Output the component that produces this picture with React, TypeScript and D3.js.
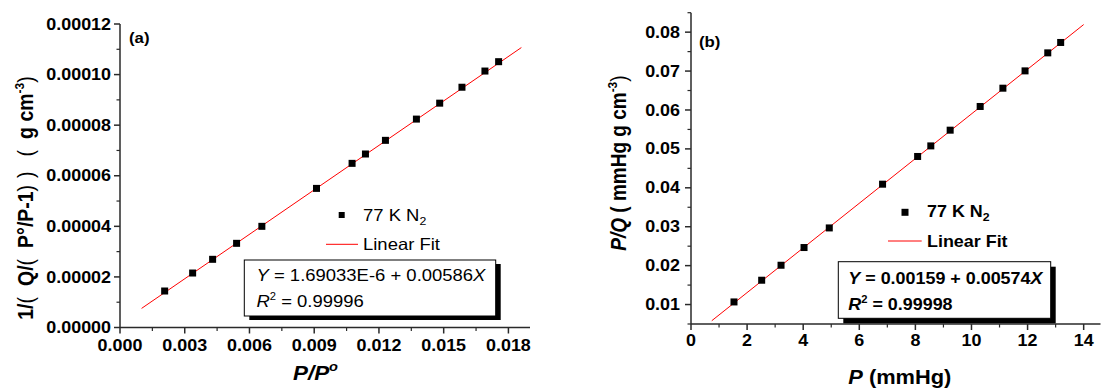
import React from "react";
import * as d3 from "d3";

// ---------- data ----------
const ppoA = [0.00207, 0.003366, 0.004292, 0.005403, 0.006574, 0.009106, 0.010755, 0.011375, 0.012301, 0.013736, 0.014815, 0.015847, 0.016912, 0.017546];
const invQA = [1.443e-5, 2.154e-5, 2.696e-5, 3.328e-5, 4.0e-5, 5.5e-5, 6.49e-5, 6.86e-5, 7.4e-5, 8.24e-5, 8.87e-5, 9.5e-5, 1.014e-4, 1.051e-4];
const fitA = { intercept: 1.69033e-6, slope: 0.00586, from: 0.001, to: 0.0186 };

const pB = [1.533, 2.52, 3.21, 4.03, 4.93, 6.83, 8.08, 8.55, 9.24, 10.31, 11.12, 11.91, 12.72, 13.18];
const pqB = [0.01067, 0.01625, 0.0201, 0.02465, 0.02969, 0.04093, 0.04805, 0.05077, 0.05481, 0.0609, 0.0656, 0.07005, 0.07468, 0.07735];
const fitB = { intercept: 0.00159, slope: 0.00574, from: 0.74, to: 14.0 };

const xTicksA = [0, 0.003, 0.006, 0.009, 0.012, 0.015, 0.018];
const xMinorA = [0.0015, 0.0045, 0.0075, 0.0105, 0.0135, 0.0165];
const yTicksA = [0, 0.00002, 0.00004, 0.00006, 0.00008, 0.0001, 0.00012];
const yMinorA = [0.00001, 0.00003, 0.00005, 0.00007, 0.00009, 0.00011];

const xTicksB = [0, 2, 4, 6, 8, 10, 12, 14];
const xMinorB = [1, 3, 5, 7, 9, 11, 13];
const yTicksB = [0.01, 0.02, 0.03, 0.04, 0.05, 0.06, 0.07, 0.08];
const yMinorB = [0.005, 0.015, 0.025, 0.035, 0.045, 0.055, 0.065, 0.075, 0.085];

// ---------- styling ----------
const SX = 1.12;
const FONT = "'Liberation Sans', Arial, sans-serif";
const AXIS = "#2a2a2a";

function T(props: any) {
  const { x, y, anchor = "start", size = 16, weight = "bold", italic = false, rotate = false, children } = props;
  return (
    <text
      transform={`translate(${x},${y}) scale(${SX},1)${rotate ? " rotate(-90)" : ""}`}
      textAnchor={anchor}
      fontSize={size}
      fontWeight={weight}
      fontStyle={italic ? "italic" : "normal"}
      fontFamily={FONT}
      fill="#000"
    >
      {children}
    </text>
  );
}

function Axes(props: any) {
  const { x, y, xt, xm, yt, ym, xf, yf, xLabY, yLabX } = props;
  const [x0, x1] = x.range();
  const [y0, y1] = y.range();
  return (
    <g>
      <line x1={x0} x2={x1} y1={y0} y2={y0} stroke={AXIS} strokeWidth={1.5} />
      <line x1={x0} x2={x0} y1={y0} y2={y1} stroke={AXIS} strokeWidth={1.5} />
      {xt.map((v: number) => (
        <g key={"xt" + v}>
          <line x1={x(v)} x2={x(v)} y1={y0} y2={y0 + 6} stroke={AXIS} strokeWidth={1.5} />
          <T x={x(v)} y={xLabY} anchor="middle" size={16}>{xf(v)}</T>
        </g>
      ))}
      {xm.map((v: number) => (
        <line key={"xm" + v} x1={x(v)} x2={x(v)} y1={y0} y2={y0 + 3.5} stroke={AXIS} strokeWidth={1.2} />
      ))}
      {yt.map((v: number) => (
        <g key={"yt" + v}>
          <line x1={x0 - 6} x2={x0} y1={y(v)} y2={y(v)} stroke={AXIS} strokeWidth={1.5} />
          <T x={yLabX} y={y(v) + 5.6} anchor="end" size={16}>{yf(v)}</T>
        </g>
      ))}
      {ym.map((v: number) => (
        <line key={"ym" + v} x1={x0 - 3.5} x2={x0} y1={y(v)} y2={y(v)} stroke={AXIS} strokeWidth={1.2} />
      ))}
    </g>
  );
}

export default function App() {
  const xA = d3.scaleLinear().domain([0, 0.019]).range([120, 530]);
  const yA = d3.scaleLinear().domain([0, 0.00012]).range([327.5, 24]);
  const xB = d3.scaleLinear().domain([0, 14.6]).range([691, 1100.5]);
  const yB = d3.scaleLinear().domain([0.005, 0.085]).range([324, 12.7]);

  const lineA = d3.line<number>().x((v) => xA(v)).y((v) => yA(fitA.intercept + fitA.slope * v));
  const lineB = d3.line<number>().x((v) => xB(v)).y((v) => yB(fitB.intercept + fitB.slope * v));

  const sq = 7;

  return (
    <svg width={1102} height={390} style={{ position: "absolute", left: 0, top: 0, background: "#fff" }}>
      <rect x={0} y={0} width={1102} height={390} fill="#fff" />

      {/* ---------- panel (a) ---------- */}
      <Axes x={xA} y={yA} xt={xTicksA} xm={xMinorA} yt={yTicksA} ym={yMinorA}
        xf={(v: number) => v.toFixed(3)} yf={(v: number) => v.toFixed(5)} xLabY={351} yLabX={111} />
      <path d={lineA([fitA.from, fitA.to]) || ""} stroke="#ff0000" strokeWidth={1} fill="none" />
      {ppoA.map((v, i) => (
        <rect key={"a" + i} x={xA(v) - sq / 2} y={yA(invQA[i]) - sq / 2} width={sq} height={sq} fill="#000" />
      ))}
      <T x={129} y={43} size={15}>(a)</T>

      {/* legend (a) */}
      <rect x={341.7 - 3} y={215 - 3} width={6} height={6} fill="#000" />
      <T x={363} y={221} size={16.5} weight="normal">77 K N<tspan fontSize={11} dy={4}>2</tspan></T>
      <line x1={326} x2={358} y1={244.3} y2={244.3} stroke="#ff0000" strokeWidth={1} />
      <T x={363} y={249.5} size={16.5} weight="normal">Linear Fit</T>

      {/* fit box (a) */}
      <rect x={249.3} y={264} width={251.4} height={56} fill="#000" />
      <rect x={244.3} y={260} width={251.4} height={56} fill="#fff" stroke="#000" strokeWidth={1} />
      <T x={256.5} y={281} size={16.5} weight="normal">
        <tspan fontStyle="italic">Y</tspan> = 1.69033E-6 + 0.00586<tspan fontStyle="italic">X</tspan>
      </T>
      <T x={256.5} y={307} size={16.5} weight="normal">
        <tspan fontStyle="italic">R</tspan><tspan fontSize={10} dy={-7}>2</tspan><tspan dy={7}> = 0.99996</tspan>
      </T>

      {/* axis titles (a) */}
      <T x={293} y={380} size={20} italic>P/P<tspan fontSize={13} dy={-9}>o</tspan></T>
      <T x={33} y={198} size={19.5} anchor="middle" rotate>
        1/<tspan fontWeight="normal">(</tspan>
        <tspan dx={11}>Q/</tspan><tspan fontWeight="normal">(</tspan>
        <tspan dx={11}>P°/P-1</tspan><tspan fontWeight="normal">)</tspan>
        <tspan dx={7} fontWeight="normal">)</tspan>
        <tspan dx={15} fontWeight="normal">(</tspan>
        <tspan dx={11}>g cm</tspan><tspan fontSize={12} dy={-8}>-3</tspan>
        <tspan dy={8} fontWeight="normal">)</tspan>
      </T>

      {/* ---------- panel (b) ---------- */}
      <Axes x={xB} y={yB} xt={xTicksB} xm={xMinorB} yt={yTicksB} ym={yMinorB}
        xf={(v: number) => String(v)} yf={(v: number) => v.toFixed(2)} xLabY={346} yLabX={680} />
      <path d={lineB([fitB.from, fitB.to]) || ""} stroke="#ff0000" strokeWidth={1} fill="none" />
      {pB.map((v, i) => (
        <rect key={"b" + i} x={xB(v) - sq / 2} y={yB(pqB[i]) - sq / 2} width={sq} height={sq} fill="#000" />
      ))}
      <T x={699} y={47} size={15}>(b)</T>

      {/* legend (b) */}
      <rect x={905 - 3.5} y={212.3 - 3.5} width={7} height={7} fill="#000" />
      <T x={927} y={217} size={16}>77 K N<tspan fontSize={11} dy={4}>2</tspan></T>
      <line x1={888} x2={921.7} y1={241} y2={241} stroke="#ff0000" strokeWidth={1} />
      <T x={927} y={246.5} size={16}>Linear Fit</T>

      {/* fit box (b) */}
      <rect x={843.3} y={266.7} width={212.4} height={56.6} fill="#000" />
      <rect x={838.3} y={261.7} width={212.4} height={56.6} fill="#fff" stroke="#000" strokeWidth={1} />
      <T x={848.3} y={283.5} size={16}>
        <tspan fontStyle="italic">Y</tspan> = 0.00159 + 0.00574<tspan fontStyle="italic">X</tspan>
      </T>
      <T x={848.3} y={309.5} size={16}>
        <tspan fontStyle="italic">R</tspan><tspan fontSize={10} dy={-7}>2</tspan><tspan dy={7}> = 0.99998</tspan>
      </T>

      {/* axis titles (b) */}
      <T x={848.3} y={384} size={19.5}><tspan fontStyle="italic">P</tspan> (mmHg)</T>
      <T x={626} y={163} size={19} anchor="middle" rotate>
        <tspan fontStyle="italic">P/Q</tspan> ( mmHg g cm<tspan fontSize={12} dy={-8}>-3</tspan><tspan dy={8} fontWeight="normal">)</tspan>
      </T>
    </svg>
  );
}
